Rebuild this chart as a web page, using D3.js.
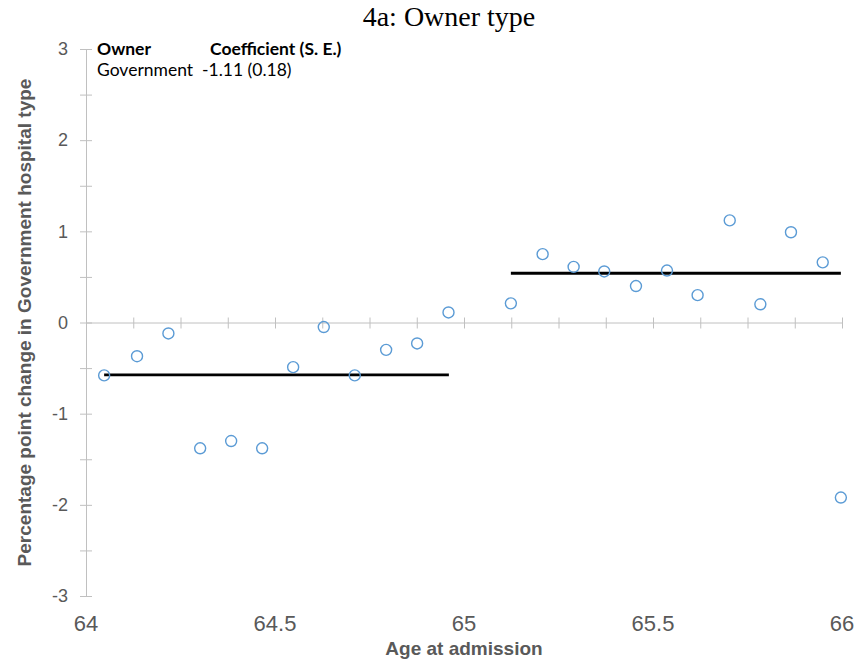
<!DOCTYPE html>
<html>
<head>
<meta charset="utf-8">
<script src="https://cdn.jsdelivr.net/npm/d3@7"></script>
<style>
  html, body { margin: 0; padding: 0; background: #fff; }
  svg { display: block; }
</style>
</head>
<body>
<svg id="chart" width="859" height="665"></svg>
<script>
// Monthly age bins and the percentage-point change in each bin
const ages = [
  64.048, 64.135, 64.218, 64.302, 64.384, 64.466, 64.548, 64.629, 64.711, 64.794, 64.876, 64.959,
  65.124, 65.208, 65.290, 65.371, 65.455, 65.537, 65.618, 65.703, 65.784, 65.865, 65.949, 65.997
];
const changes = [
  -0.58, -0.37, -0.12, -1.38, -1.30, -1.38, -0.49, -0.05, -0.58, -0.30, -0.23, 0.11,
  0.21, 0.75, 0.61, 0.56, 0.40, 0.57, 0.30, 1.12, 0.20, 0.99, 0.66, -1.92
];

// Fitted level before and after age 65
const fitSegments = [
  { x0: 64.048, x1: 64.960, level: -0.575 },
  { x0: 65.124, x1: 65.997, level: 0.54 }
];

const xMajorTicks = [64, 64.5, 65, 65.5, 66];
const yMajorTicks = [-3, -2, -1, 0, 1, 2, 3];

const legendRows = [
  ["Owner", "Coefficient (S. E.)"],
  ["Government", "-1.11 (0.18)"]
];

const svg = d3.select("#chart");
const x = d3.scaleLinear().domain([64, 66]).range([86, 842]);
const y = d3.scaleLinear().domain([-3, 3]).range([596, 49]);

const axisColor = "#c0c0c0";
const labelColor = "#595959";

// Title
svg.append("text")
  .attr("x", 449).attr("y", 26)
  .attr("text-anchor", "middle")
  .attr("font-family", "'Liberation Serif', 'Times New Roman', serif")
  .attr("font-size", 28)
  .attr("fill", "#000")
  .text("4a: Owner type");

// Vertical axis: line through x = 64 with ticks every 0.5
const yAxis = d3.axisLeft(y)
  .tickValues(d3.range(-3, 3.01, 0.5))
  .tickSize(0)
  .tickFormat("");
const gy = svg.append("g").attr("transform", `translate(${x(64)},0)`).call(yAxis);
gy.select(".domain").attr("stroke", axisColor);
gy.selectAll(".tick line")
  .attr("x1", -6).attr("x2", 6)
  .attr("stroke", axisColor);

svg.append("g").selectAll("text")
  .data(yMajorTicks)
  .join("text")
  .attr("x", 68)
  .attr("y", d => y(d))
  .attr("dy", "0.35em")
  .attr("text-anchor", "end")
  .attr("font-family", "'Liberation Sans', Arial, sans-serif")
  .attr("font-size", 18)
  .attr("fill", labelColor)
  .text(d => d3.format("d")(d).replace("−", "-"));

// Horizontal axis at zero with ticks every 0.125 years
const xAxis = d3.axisBottom(x)
  .tickValues(d3.range(64.125, 66.01, 0.125))
  .tickSize(0)
  .tickFormat("");
const gx = svg.append("g").attr("transform", `translate(0,${y(0)})`).call(xAxis);
gx.select(".domain").attr("stroke", axisColor);
gx.selectAll(".tick line")
  .attr("y1", -5).attr("y2", 6)
  .attr("stroke", axisColor);

svg.append("g").selectAll("text")
  .data(xMajorTicks)
  .join("text")
  .attr("x", d => x(d))
  .attr("y", 631)
  .attr("text-anchor", "middle")
  .attr("font-family", "'Liberation Sans', Arial, sans-serif")
  .attr("font-size", 22)
  .attr("fill", labelColor)
  .text(d => String(d));

// Axis titles
svg.append("text")
  .attr("x", (x(64) + x(66)) / 2).attr("y", 655)
  .attr("text-anchor", "middle")
  .attr("font-family", "'Liberation Sans', Arial, sans-serif")
  .attr("font-weight", "bold")
  .attr("font-size", 19)
  .attr("fill", labelColor)
  .text("Age at admission");

svg.append("text")
  .attr("transform", `translate(31,${(y(3) + y(-3)) / 2}) rotate(-90)`)
  .attr("text-anchor", "middle")
  .attr("font-family", "'Liberation Sans', Arial, sans-serif")
  .attr("font-weight", "bold")
  .attr("font-size", 19)
  .attr("fill", labelColor)
  .text("Percentage point change in Government hospital type");

// Fitted lines
svg.append("g").selectAll("line")
  .data(fitSegments)
  .join("line")
  .attr("x1", d => x(d.x0)).attr("x2", d => x(d.x1))
  .attr("y1", d => y(d.level)).attr("y2", d => y(d.level))
  .attr("stroke", "#000")
  .attr("stroke-width", 2.8);

// Bin means as open circles
svg.append("g").selectAll("circle")
  .data(ages.map((a, i) => ({ age: a, value: changes[i] })))
  .join("circle")
  .attr("cx", d => x(d.age))
  .attr("cy", d => y(d.value))
  .attr("r", 5.5)
  .attr("fill", "none")
  .attr("stroke", "#5b9bd5")
  .attr("stroke-width", 1.4);

// Coefficient table in the upper-left corner
const legend = svg.append("g").attr("font-family", "Lato, 'Open Sans', sans-serif").attr("font-size", 17.5);
legendRows.forEach((row, i) => {
  const yy = 55 + i * 21;
  legend.append("text")
    .attr("x", 97).attr("y", yy)
    .attr("font-weight", i === 0 ? "bold" : "normal")
    .text(row[0]);
  legend.append("text")
    .attr("x", i === 0 ? 210 : 202).attr("y", yy)
    .attr("font-weight", i === 0 ? "bold" : "normal")
    .text(row[1]);
});
</script>
</body>
</html>
